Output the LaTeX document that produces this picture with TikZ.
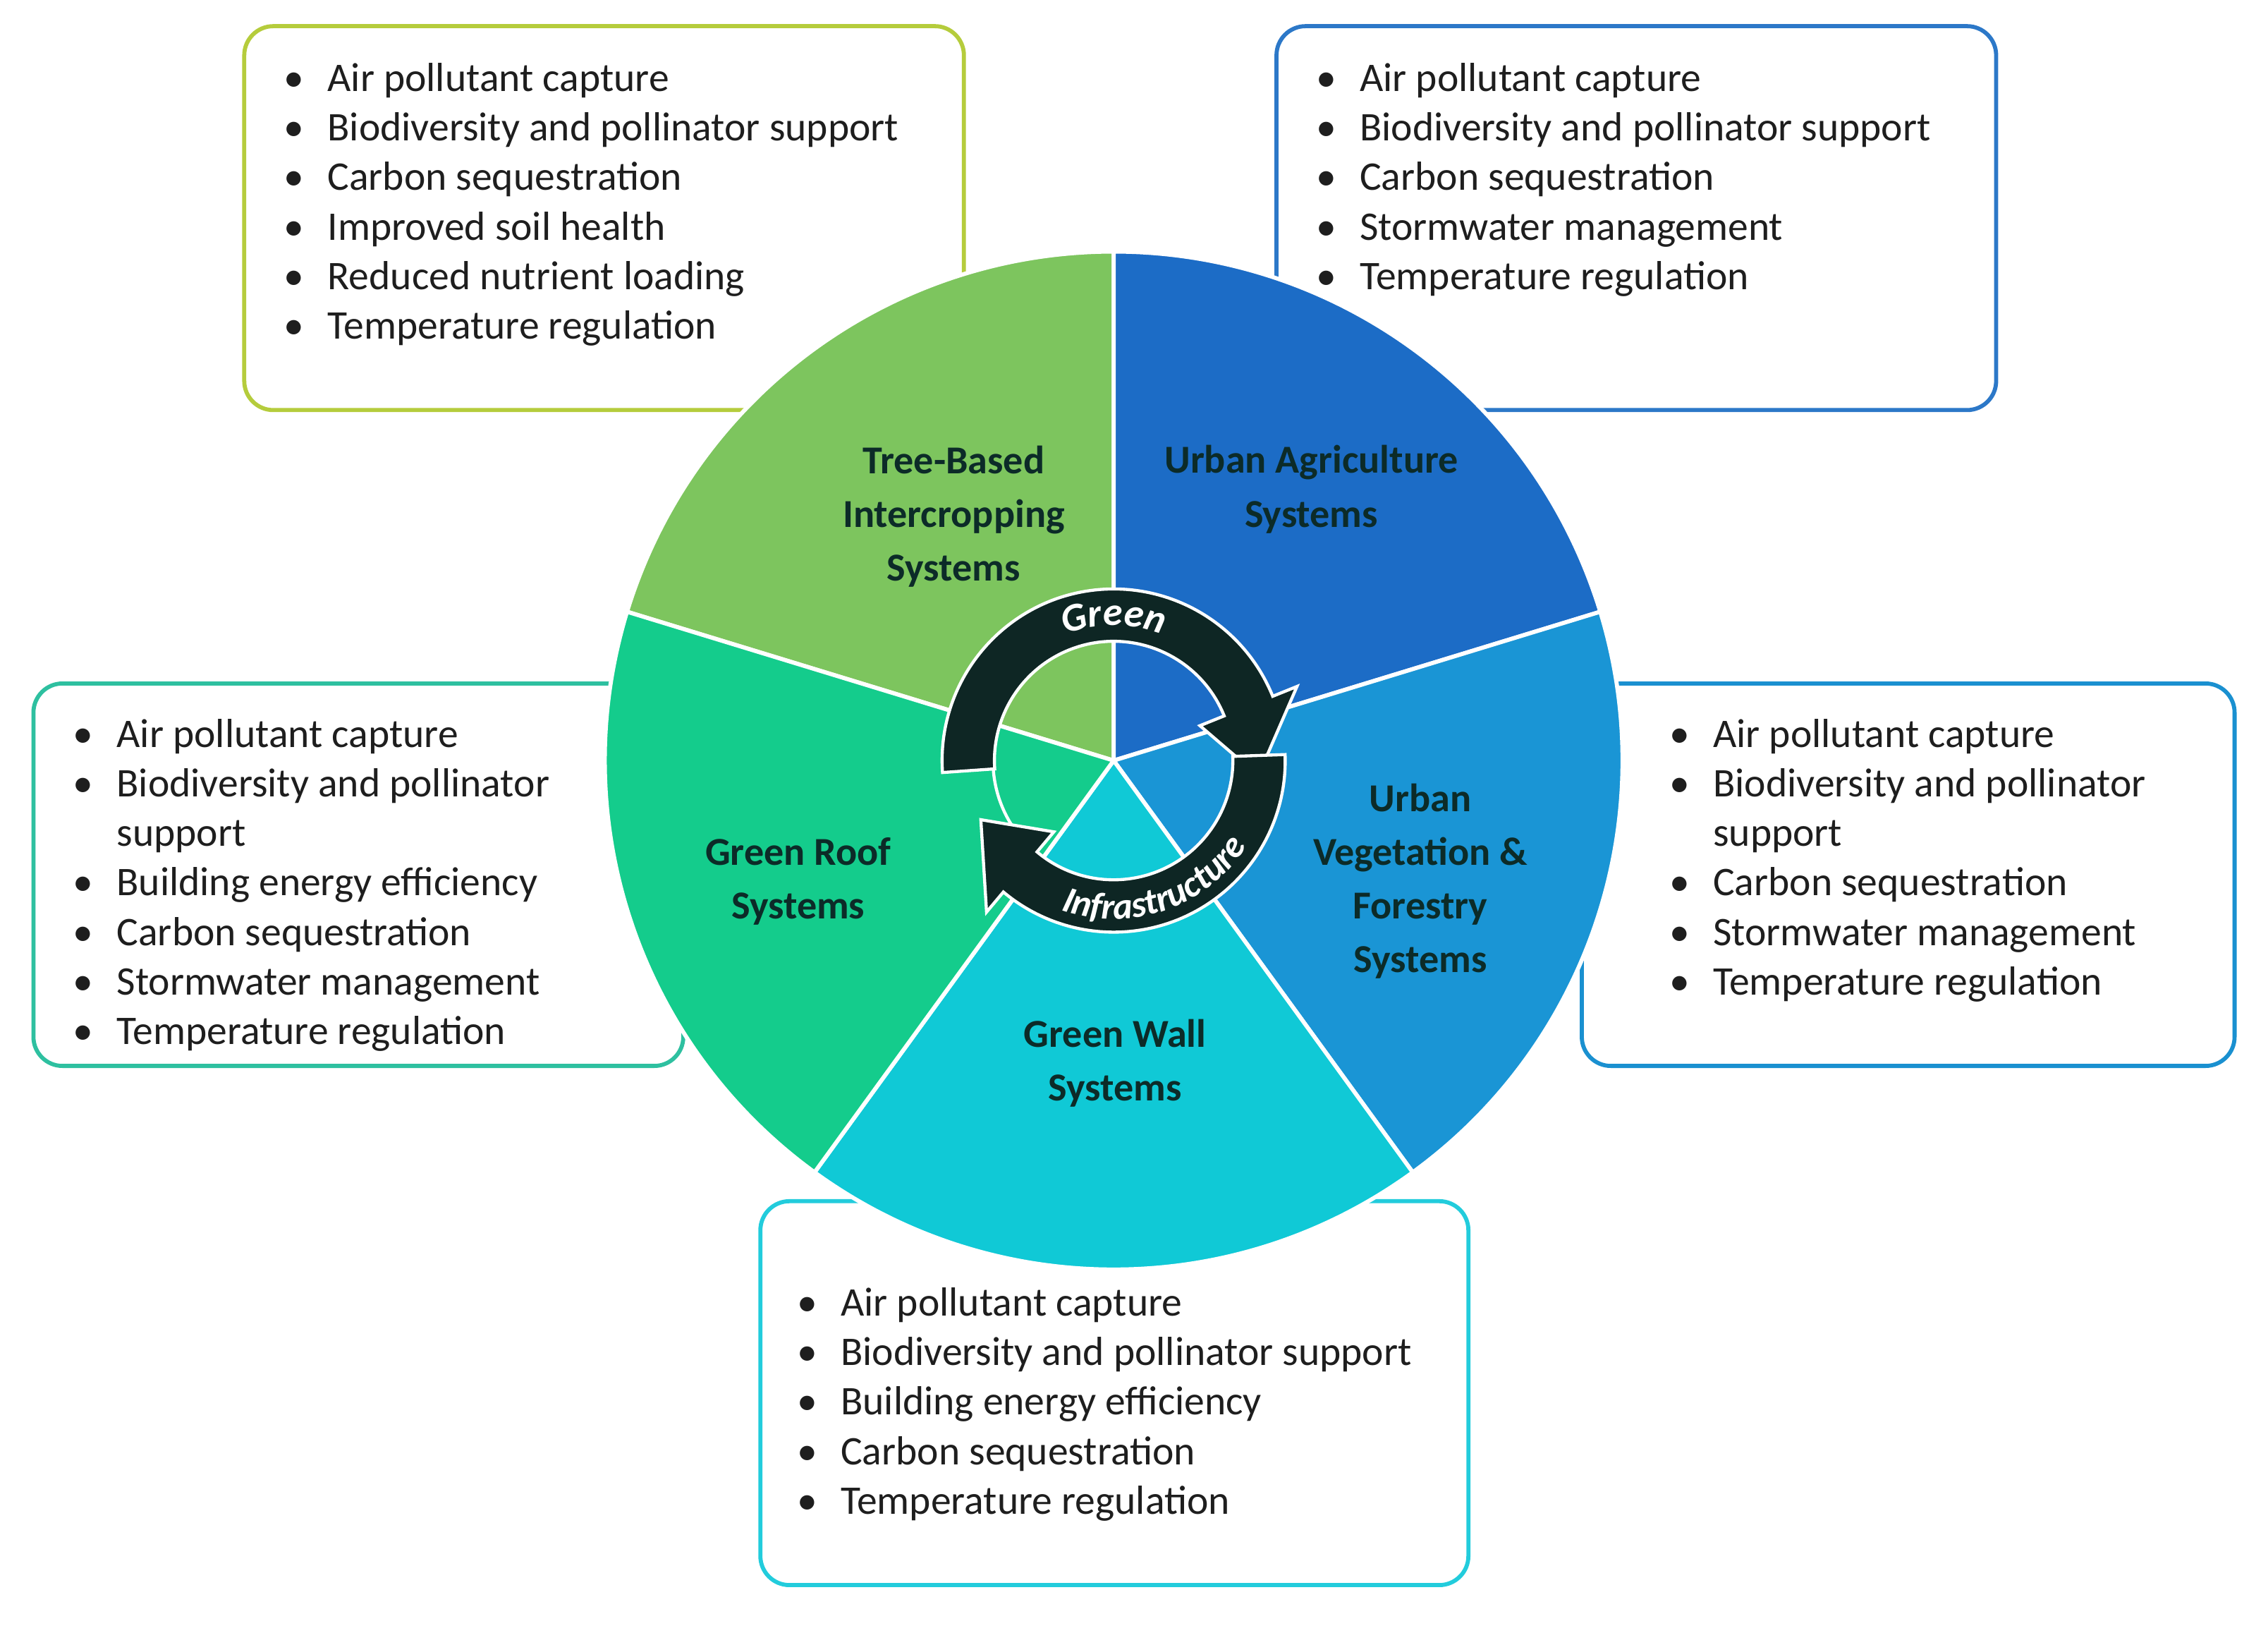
\documentclass[tikz,border=0pt]{standalone}
\usepackage{fontspec}
\setmainfont{Carlito}
\usepackage{tikz}
\usetikzlibrary{positioning,decorations.text}
\definecolor{treegreen}{HTML}{7DC55E}
\definecolor{agriblue}{HTML}{1C6CC6}
\definecolor{vegblue}{HTML}{1A95D5}
\definecolor{wallcyan}{HTML}{10C9D6}
\definecolor{roofgreen}{HTML}{14CC8C}
\definecolor{ringdark}{HTML}{0E2624}
\definecolor{labeldark}{HTML}{0C2B28}
\definecolor{listtext}{HTML}{1E1E1E}
\newcommand{\bitem}[1]{\makebox[0.6cm][l]{\textbullet}#1}
\newcommand{\bcont}[1]{\makebox[0.6cm][l]{}#1}

\begin{document}
\begin{tikzpicture}[
		box/.style ={ line width = 1.6pt , rounded corners = 0.4cm , fill=white},
		list/.style ={ anchor = north west , inner sep = 0pt , align = left ,
			font = \fontsize{15.9}{19.4}\selectfont , text=listtext},
		sector/.style ={ draw=white , line width = 1.6pt},
		system/.style ={ align = center , text=labeldark ,
			font = \bfseries\fontsize{15.5}{21}\selectfont},
		ringarrow/.style ={ fill=ringdark , draw=white , line width = 1.2pt}]
		\useasboundingbox (0,0) rectangle (31.2,22.62);
		% benefit boxes
		\draw[box, draw={rgb,255:red,181;green,204;blue,60}] (3.36,22.26) rectangle (13.26,16.98);
		\draw[box, draw={rgb,255:red,44;green,120;blue,200}] (17.56,22.26) rectangle (27.46,16.98);
		\draw[box, draw={rgb,255:red,46;green,192;blue,160}] (0.46,13.22) rectangle (9.4,7.96);
		\draw[box, draw={rgb,255:red,26;green,144;blue,208}] (21.76,13.22) rectangle (30.74,7.96);
		\draw[box, draw={rgb,255:red,34;green,204;blue,220}] (10.46,6.1) rectangle (20.2,0.82);
		% wheel
		\coordinate (O) at (15.32,12.16);
		\draw[sector, fill=treegreen] (O) -- ++(90:7) arc (90:163:7) -- cycle;
		\draw[sector, fill=agriblue] (O) -- ++(17:7) arc (17:90:7) -- cycle;
		\draw[sector, fill=vegblue] (O) -- ++(-54:7) arc (-54:17:7) -- cycle;
		\draw[sector, fill=wallcyan] (O) -- ++(-126:7) arc (-126:-54:7) -- cycle;
		\draw[sector, fill=roofgreen] (O) -- ++(163:7) arc (163:234:7) -- cycle;
		\draw[white, line width=1.2pt] (O) circle (1.66);
		% cycle arrows
		\draw[ringarrow] ([shift={(O)}]184:2.36) arc (184:22:2.36) -- ([shift={(O)}]22:2.72)
			-- ([shift={(O)}]-6:2.0) -- ([shift={(O)}]22:1.28) -- ([shift={(O)}]22:1.64)
			arc (22:184:1.64) -- cycle;
		\draw[ringarrow] ([shift={(O)}]2:2.36) arc (2:-130:2.36) -- ([shift={(O)}]-130:2.72)
			-- ([shift={(O)}]-156:2.0) -- ([shift={(O)}]-130:1.28) -- ([shift={(O)}]-130:1.64)
			arc (-130:2:1.64) -- cycle;
		\path[decorate, decoration={text along path, text align=center,
			text={|\bfseries\itshape\fontsize{15.5}{15}\selectfont\color{white}|Green}}]
			([shift={(O)}]150:1.86) arc (150:30:1.86);
		\path[decorate, decoration={text along path, text align=center,
			text={|\bfseries\itshape\fontsize{14.5}{14}\selectfont\color{white}|Infrastructure}}]
			([shift={(O)}]-126:2.18) arc (-126:-16:2.18);
		% system names
		\node[system] (tree) at (13.12,15.52) {Tree-Based\\Intercropping\\Systems};
		\node[system] (agri) at (18.04,15.89) {Urban Agriculture\\Systems};
		\node[system] (veg) at (19.54,10.5) {Urban\\Vegetation \&\\Forestry\\Systems};
		\node[system] (roof) at (10.98,10.5) {Green Roof\\Systems};
		\node[system] (wall) at (15.34,8.0) {Green Wall\\Systems};
		% benefit lists
		\node[list] (treelist) at (3.9,21.76) {\bitem{Air pollutant capture}\\
			\bitem{Biodiversity and pollinator support}\\ \bitem{Carbon sequestration}\\
			\bitem{Improved soil health}\\ \bitem{Reduced nutrient loading}\\
			\bitem{Temperature regulation}};
		\node[list] (agrilist) at (18.1,21.76) {\bitem{Air pollutant capture}\\
			\bitem{Biodiversity and pollinator support}\\ \bitem{Carbon sequestration}\\
			\bitem{Stormwater management}\\ \bitem{Temperature regulation}};
		\node[list] (rooflist) at (1.0,12.74) {\bitem{Air pollutant capture}\\
			\bitem{Biodiversity and pollinator}\\ \bcont{support}\\
			\bitem{Building energy efficiency}\\ \bitem{Carbon sequestration}\\
			\bitem{Stormwater management}\\ \bitem{Temperature regulation}};
		\node[list] (veglist) at (22.96,12.74) {\bitem{Air pollutant capture}\\
			\bitem{Biodiversity and pollinator}\\ \bcont{support}\\
			\bitem{Carbon sequestration}\\ \bitem{Stormwater management}\\
			\bitem{Temperature regulation}};
		\node[list] (walllist) at (10.96,4.92) {\bitem{Air pollutant capture}\\
			\bitem{Biodiversity and pollinator support}\\ \bitem{Building energy efficiency}\\
			\bitem{Carbon sequestration}\\ \bitem{Temperature regulation}};
\end{tikzpicture}
\end{document}
